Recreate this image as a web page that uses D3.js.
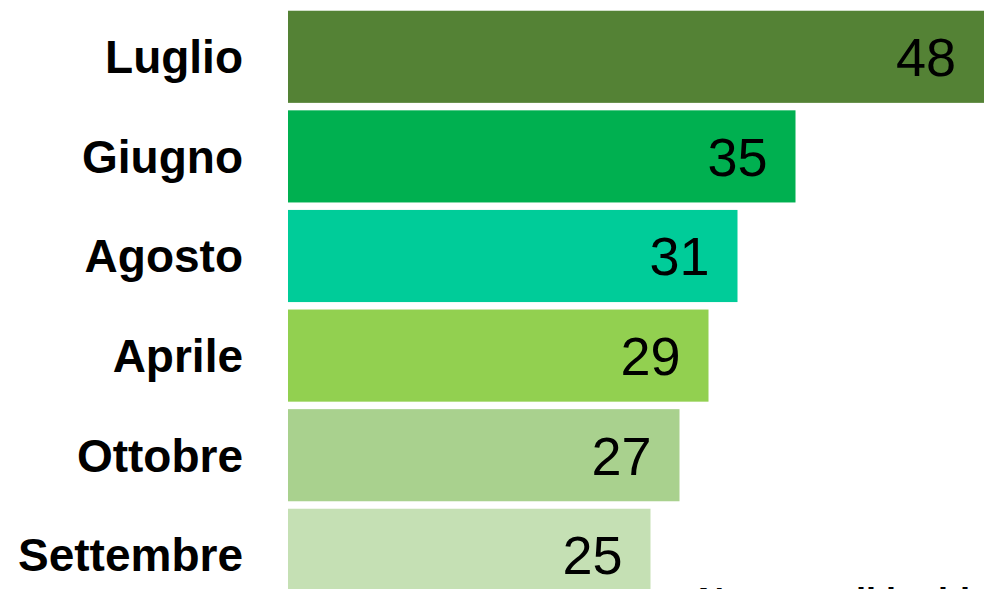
<!DOCTYPE html>
<html>
<head>
<meta charset="utf-8">
<script src="https://cdn.jsdelivr.net/npm/d3@7"></script>
<style>
  html, body { margin: 0; padding: 0; background: #fff; overflow: hidden; }
</style>
</head>
<body>
<div id="chart-area"></div>
<script>
//============================DATA============================
var months = ["Luglio", "Giugno", "Agosto", "Aprile", "Ottobre", "Settembre"];
var values = [48, 35, 31, 29, 27, 25];
var barColors = ["#548235", "#00B050", "#00CC99", "#92D050", "#A9D18E", "#C5E0B4"];
var axisTitle = "Numero di incidenti";

//============================GLOBALS============================
var W = 985, H = 589;
var fontFamily = "'Liberation Sans', Arial, Helvetica, sans-serif";

var svg = d3.select("#chart-area")
    .append("svg")
    .attr("width", W)
    .attr("height", H);

// band scale for the months (rows)
var y = d3.scaleBand()
    .domain(months)
    .range([7, 7 + 6 * 99.6])
    .paddingInner(0.075)
    .paddingOuter(0.0375);

// linear scale for the values
var x = d3.scaleLinear()
    .domain([0, 48])
    .range([288, 984]);

var data = months.map(function(m, i){
    return { month: m, value: values[i], color: barColors[i] };
});

// bars
svg.selectAll("rect.bar")
    .data(data)
    .enter()
    .append("rect")
    .attr("class", "bar")
    .attr("x", x(0))
    .attr("y", function(d){ return y(d.month); })
    .attr("width", function(d){ return x(d.value) - x(0); })
    .attr("height", y.bandwidth())
    .attr("fill", function(d){ return d.color; });

// category labels (left)
var labelSize = 46;
svg.selectAll("text.cat")
    .data(data)
    .enter()
    .append("text")
    .attr("class", "cat")
    .attr("x", 243)
    .attr("y", function(d){ return y(d.month) + y.bandwidth() / 2 + labelSize * 0.358; })
    .attr("text-anchor", "end")
    .attr("font-family", fontFamily)
    .attr("font-weight", "bold")
    .attr("font-size", labelSize + "px")
    .attr("fill", "#000")
    .text(function(d){ return d.month; });

// value labels inside the bars
var valueSize = 54;
svg.selectAll("text.val")
    .data(data)
    .enter()
    .append("text")
    .attr("class", "val")
    .attr("x", function(d){ return x(d.value) - 28; })
    .attr("y", function(d){ return y(d.month) + y.bandwidth() / 2 + valueSize * 0.358; })
    .attr("text-anchor", "end")
    .attr("font-family", fontFamily)
    .attr("font-size", valueSize + "px")
    .attr("fill", "#000")
    .text(function(d){ return d.value; });

// axis title, cut off at the bottom edge as in the original
svg.append("text")
    .attr("x", 698)
    .attr("y", 614)
    .attr("font-family", fontFamily)
    .attr("font-weight", "bold")
    .attr("font-size", "36px")
    .attr("fill", "#000")
    .text(axisTitle);
</script>
</body>
</html>
